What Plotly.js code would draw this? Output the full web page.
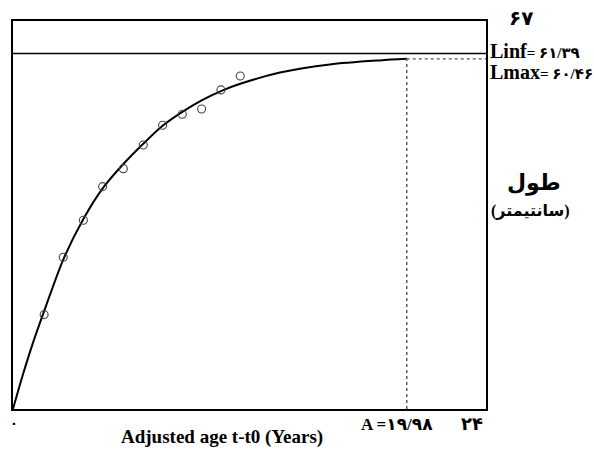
<!DOCTYPE html>
<html>
<head>
<meta charset="utf-8">
<script src="https://cdn.plot.ly/plotly-3.0.1.min.js"></script>
<style>html,body{margin:0;padding:0;background:#fff;}#chart{width:594px;height:451px;}</style>
</head>
<body>
<div id="chart"></div>
<script>
// Fitted growth curve (adjusted age, length cm)
const curveAge = [0, 0.5, 1.0, 1.58, 2.55, 3.57, 4.55, 5.6, 6.61, 7.59, 8.59, 9.57, 10.55, 11.57, 13.55, 16.08, 18.62, 19.98];
const curveLen = [0, 5.9, 11.3, 16.9, 25.8, 32.8, 38.1, 42.3, 45.8, 48.9, 51.3, 53.3, 54.9, 56.2, 58.1, 59.5, 60.2, 60.46];
// Observed mean lengths
const obsAge = [1.58, 2.55, 3.57, 4.55, 5.6, 6.61, 7.59, 8.59, 9.57, 10.55, 11.53];
const obsLen = [16.3, 26.2, 32.6, 38.4, 41.5, 45.6, 49.0, 50.9, 51.8, 55.1, 57.5];
// Reference values
const Linf = 61.39;
const Lmax = 60.46;
const Amax = 19.98;
const xMax = 24;
const yMax = 67;
const labels = {
  top: '۶۷', linf: '۶۱/۳۹', lmax: '۶۰/۴۶', zero: '۰', right: '۲۴', a: '۱۹/۹۸',
  ytitle1: 'طول', ytitle2: '(سانتیمتر)', xtitle: 'Adjusted age t-t0 (Years)'
};

const F = 'Liberation Serif, Times New Roman, DejaVu Sans, serif';
const PX = px => (px - 13) / 473;
const PY = py => (409 - py) / 388;

const traces = [
  {x: curveAge, y: curveLen, mode: 'lines', line: {color: '#000', width: 2, shape: 'spline', smoothing: 0.8}, hoverinfo: 'skip'},
  {x: obsAge, y: obsLen, mode: 'markers', marker: {symbol: 'circle-open', size: 8, color: '#444', line: {width: 1.1, color: '#444'}}}
];

const shapes = [
  {type: 'line', xref: 'paper', x0: 0, x1: 1, yref: 'y', y0: Linf, y1: Linf, line: {color: '#000', width: 1.6}},
  {type: 'line', xref: 'x', x0: Amax, x1: xMax, yref: 'y', y0: Lmax, y1: Lmax, line: {color: '#555', width: 1.4, dash: 'dot'}},
  {type: 'line', xref: 'x', x0: Amax, x1: Amax, yref: 'y', y0: 0, y1: Lmax, line: {color: '#555', width: 1.4, dash: 'dot'}}
];

function ann(text, px, py, size, xanchor) {
  return {xref: 'paper', yref: 'paper', x: PX(px), y: PY(py), text: text, showarrow: false,
    xanchor: xanchor || 'center', yanchor: 'middle', font: {family: F, size: size, color: '#000'}};
}

const annotations = [
  ann('<b>' + labels.top + '</b>', 521, 18, 20),
  ann('<b>Linf<span style="font-size:15px">= ' + labels.linf + '</span></b>', 488, 51, 20, 'left'),
  ann('<b>Lmax<span style="font-size:15px">= ' + labels.lmax + '</span></b>', 488, 72, 20, 'left'),
  ann('<b>' + labels.ytitle1 + '</b>', 534, 183, 22),
  ann('<b>' + labels.ytitle2 + '</b>', 530, 211, 16),
  ann('<b>' + labels.zero + '</b>', 14, 423, 13),
  ann('<b>A =' + labels.a + '</b>', 397, 424, 17),
  ann('<b>' + labels.right + '</b>', 472, 424, 18),
  ann('<b>' + labels.xtitle + '</b>', 222, 437, 19)
];

const layout = {
  width: 594, height: 451,
  margin: {l: 13, r: 108, t: 21, b: 42, pad: 0},
  paper_bgcolor: '#fff', plot_bgcolor: '#fff',
  showlegend: false,
  xaxis: {range: [0, xMax], showgrid: false, zeroline: false, showticklabels: false, ticks: '',
    showline: true, mirror: true, linecolor: '#000', linewidth: 2, fixedrange: true},
  yaxis: {range: [0, yMax], showgrid: false, zeroline: false, showticklabels: false, ticks: '',
    showline: true, mirror: true, linecolor: '#000', linewidth: 2, fixedrange: true},
  shapes: shapes,
  annotations: annotations
};

Plotly.newPlot('chart', traces, layout, {displayModeBar: false, staticPlot: true});
</script>
</body>
</html>
